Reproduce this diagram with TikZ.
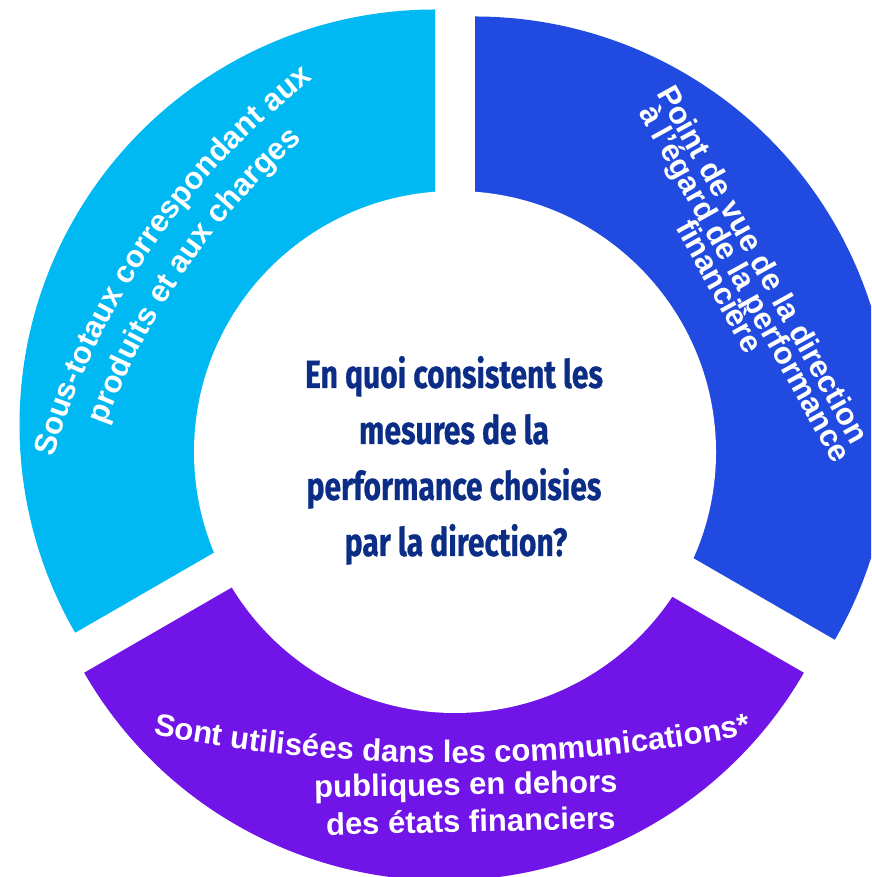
\documentclass[tikz,border=0pt]{standalone}
\usepackage{fontspec}
\setmainfont{Liberation Sans}
\newfontfamily\condfont{Fira Sans}[FakeStretch=0.76,FakeBold=0.6]
\usetikzlibrary{decorations.text}
\definecolor{lblue}{HTML}{00B8F2}
\definecolor{dblue}{HTML}{214BE0}
\definecolor{purp}{HTML}{7014E8}
\definecolor{navy}{HTML}{0B2D86}
\begin{document}
\begin{tikzpicture}[x=1pt,y=1pt,
  segtext/.style={font=\bfseries\fontsize{31}{31}\selectfont, text=white, inner sep=0pt},
  qtext/.style={font=\condfont\bfseries\fontsize{39.5}{39.5}\selectfont, text=navy, inner sep=0pt, anchor=base},
  arctext/.style={decorate, decoration={text along path, text align=center, text color=white,
     text={|\bfseries\fontsize{31}{31}\selectfont|#1}}},
]
\useasboundingbox (0,0) rectangle (871,877);
\clip (0,0) rectangle (871,877);
\coordinate (lbc) at (435,452);
\coordinate (dbc) at (475,445);
\coordinate (ppc) at (444,412);
\coordinate (ctr) at (455,425);
% slices
\fill[lblue] (lbc) -- ++(90:415.5) arc[start angle=90,end angle=210,radius=415.5] -- cycle;
\fill[dblue] (dbc) -- ++(-30:415.5) arc[start angle=-30,end angle=90,radius=415.5] -- cycle;
\fill[purp] (ppc) -- ++(210:415.5) arc[start angle=210,end angle=330,radius=415.5] -- cycle;
\fill[white] (ctr) circle[radius=261];
% centre question
\node[qtext] (q1) at (454,489) {En quoi consistent les};
\node[qtext] (q2) at (454,433) {mesures de la};
\node[qtext] (q3) at (454,377) {performance choisies};
\node[qtext] (q4) at (456,321) {par la direction?};
% left text
\coordinate (lcen) at (763,210);
\path[arctext={Sous-totaux correspondant aux}] ([shift={(175:740)}]lcen) arc[start angle=175,end angle=116,radius=740];
\path[arctext={produits et aux charges}] ([shift={(175:700)}]lcen) arc[start angle=175,end angle=116,radius=700];
% right text
\node[segtext, rotate=-61, anchor=base] (r1) at (754.1,607.6) {Point de vue de la direction};
\node[segtext, rotate=-61, anchor=base] (r2) at (736.1,588.6) {à l'égard de la performance};
\node[segtext, rotate=-61, anchor=base] (r3) at (710.6,585.6) {financière};
% bottom text
\coordinate (bcen) at (452,1714);
\path[arctext={Sont utilisées dans les communications*}] ([shift={(245:1600)}]bcen) arc[start angle=245,end angle=295,radius=1600];
\node[segtext, rotate=1, anchor=base] (b2) at (466,82) {publiques en dehors};
\node[segtext, rotate=1.3, anchor=base] (b3) at (471,45) {des états financiers};
\end{tikzpicture}
\end{document}
